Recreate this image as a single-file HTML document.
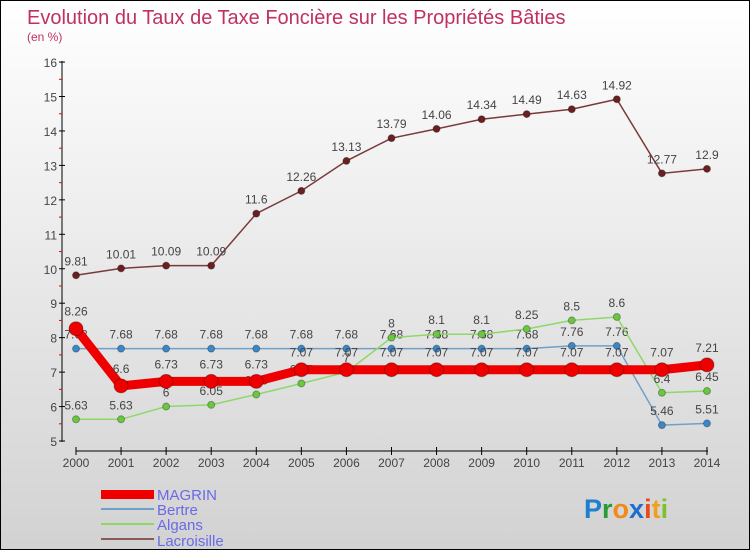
<!DOCTYPE html>
<html><head><meta charset="utf-8"><style>
body{margin:0}
#c{width:748px;height:548px;border:1px solid #000;background:linear-gradient(#fff,#d2d2d2);position:relative;font-family:"Liberation Sans",sans-serif;overflow:hidden}
svg{position:absolute;left:0;top:0}
</style></head><body>
<div id="c">
<svg id="s" width="748" height="548">
<text x="26" y="23" font-size="20" fill="#c0315e">Evolution du Taux de Taxe Foncière sur les Propriétés Bâties</text>
<text x="26" y="40" font-size="12" fill="#c0315e">(en %)</text>
<g id="axes"></g><g id="series"></g>
<g>
<rect x="100" y="489" width="53" height="9" fill="#e00"/>
<text x="156" y="499" font-size="15" fill="#6a6ae8">MAGRIN</text>
<rect x="100" y="507" width="53" height="2" fill="#6fa0c8"/>
<text x="156" y="514" font-size="15" fill="#6a6ae8">Bertre</text>
<rect x="100" y="522" width="53" height="2" fill="#8ed86a"/>
<text x="156" y="529" font-size="15" fill="#6a6ae8">Algans</text>
<rect x="100" y="537" width="53" height="2" fill="#8a5a5a"/>
<text x="156" y="545" font-size="15" fill="#6a6ae8">Lacroisille</text>
</g>
<text x="583" y="517" font-size="27" font-weight="bold"><tspan fill="#1e7ed0">P</tspan><tspan fill="#2a9a3a">r</tspan><tspan fill="#f08a1a">o</tspan><tspan fill="#1e6ed0">x</tspan><tspan fill="#e84a1a">i</tspan><tspan fill="#f0a020">t</tspan><tspan fill="#80c030">i</tspan></text>
</svg></div>
<script>
const years=[2000,2001,2002,2003,2004,2005,2006,2007,2008,2009,2010,2011,2012,2013,2014];
const yTicks=[5,6,7,8,9,10,11,12,13,14,15,16];
const magrin=[8.26,6.6,6.73,6.73,6.73,7.07,7.07,7.07,7.07,7.07,7.07,7.07,7.07,7.07,7.21];
const bertre=[7.68,7.68,7.68,7.68,7.68,7.68,7.68,7.68,7.68,7.68,7.68,7.76,7.76,5.46,5.51];
const algans=[5.63,5.63,6,6.05,6.35,6.67,7,8,8.1,8.1,8.25,8.5,8.6,6.4,6.45];
const lacroisille=[9.81,10.01,10.09,10.09,11.6,12.26,13.13,13.79,14.06,14.34,14.49,14.63,14.92,12.77,12.9];
const NS="http://www.w3.org/2000/svg";
const xs=i=>75+i*45.07, ys=v=>440-(v-5)*34.45;
function mk(p,t,a){const e=document.createElementNS(NS,t);for(const k in a)e.setAttribute(k,a[k]);p.appendChild(e);return e;}
const ax=document.getElementById('axes'), se=document.getElementById('series');
let l=mk(ax,'line',{x1:61,y1:60,x2:61,y2:441,stroke:'#000'});


l=mk(ax,'line',{x1:75,y1:450,x2:707,y2:450,stroke:'#000'});


yTicks.forEach(v=>{const y=ys(v);mk(ax,'line',{x1:58,y1:y,x2:64,y2:y,stroke:'#000'});
 if(v<16)mk(ax,'line',{x1:58,y1:y-17.2,x2:61,y2:y-17.2,stroke:'#e00'});
 const t=mk(ax,'text',{x:56,y:y+5,'font-size':12,fill:'#444','text-anchor':'end'});t.textContent=v;
 
 });
years.forEach((yr,i)=>{const x=xs(i);mk(ax,'line',{x1:x,y1:446,x2:x,y2:454,stroke:'#000'});
 const t=mk(ax,'text',{x:x,y:466,'font-size':12,fill:'#444','text-anchor':'middle'});t.textContent=yr;
 
 });
function series(d,name,col,w,r,dot,labelDy){
 const g=mk(se,'g',{});
 
 
 mk(g,'polyline',{points:d.map((v,i)=>xs(i)+','+ys(v)).join(' '),fill:'none',stroke:col,'stroke-width':w});
 d.forEach((v,i)=>{const c=mk(g,'circle',{cx:xs(i),cy:ys(v),r:r,fill:dot,stroke:'rgba(0,0,0,0.3)'});
  
  
  const t=mk(g,'text',{x:xs(i),y:ys(v)+labelDy,'font-size':12,fill:'#444','text-anchor':'middle'});t.textContent=v;
  
  });
}
series(lacroisille,'lacroisille','#7a3a3a',1.5,3.5,'#6a2020',-10);
series(bertre,'bertre','#6fa0c8',1.5,3.5,'#3a88c8',-10);
series(algans,'algans','#8ed86a',1.5,3.5,'#6ac840',-10);
series(magrin,'magrin','#e00',9,7,'#e00',-13);
</script>
</body></html>
